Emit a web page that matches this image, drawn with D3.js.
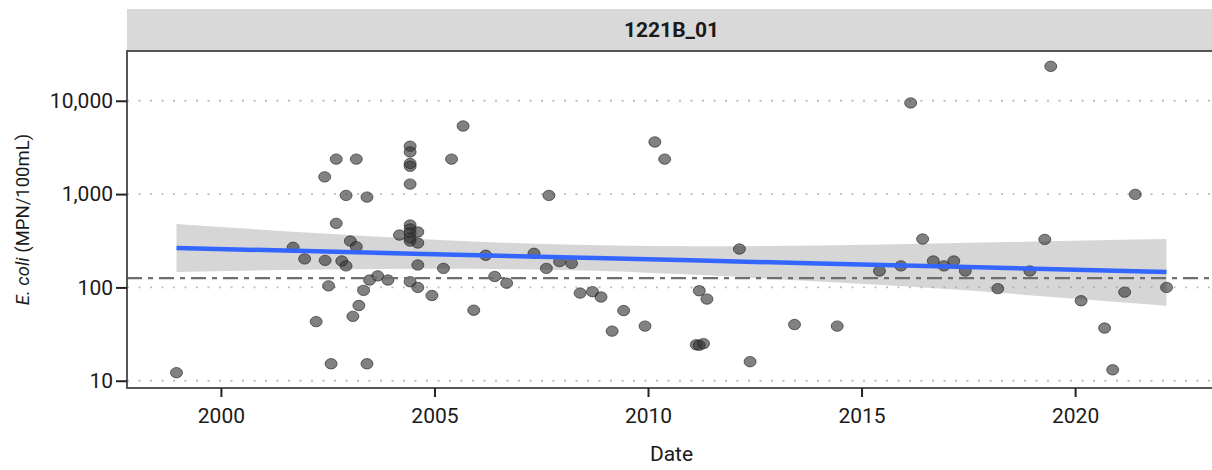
<!DOCTYPE html>
<html>
<head>
<meta charset="utf-8">
<script src="https://cdn.jsdelivr.net/npm/d3@7"></script>
<style>
  body { margin: 0; background: #fff; }
  svg { display: block; font-family: Roboto, "Noto Sans", sans-serif; }
</style>
</head>
<body>
<svg id="chart" width="1212" height="470"></svg>
<script>
// Sample dates (decimal years) and E. coli values (MPN/100mL)
const sampleDates = [
  1998.96, 2001.69, 2001.96, 2002.23, 2002.43, 2002.44, 2002.52, 2002.58, 2002.70, 2002.70,
  2002.83, 2002.93, 2002.93, 2003.03, 2003.09, 2003.17, 2003.17, 2003.23, 2003.34, 2003.42,
  2003.42, 2003.48, 2003.67, 2003.91, 2004.18, 2004.43, 2004.43, 2004.43, 2004.43, 2004.43,
  2004.43, 2004.43, 2004.43, 2004.43, 2004.43, 2004.43, 2004.61, 2004.61, 2004.61, 2004.61,
  2004.94, 2005.21, 2005.40, 2005.67, 2005.92, 2006.20, 2006.41, 2006.69, 2007.33, 2007.62,
  2007.68, 2007.93, 2008.21, 2008.41, 2008.70, 2008.90, 2009.16, 2009.43, 2009.93, 2010.16,
  2010.39, 2011.13, 2011.20, 2011.30, 2011.20, 2011.38, 2012.14, 2012.39, 2013.43, 2014.43,
  2015.42, 2015.92, 2016.15, 2016.43, 2016.68, 2016.93, 2017.16, 2017.43, 2018.19, 2018.94,
  2019.29, 2019.43, 2020.14, 2020.69, 2020.88, 2021.16, 2021.41, 2022.14
];
const ecoliValues = [
  12.2, 269, 202, 43, 1530, 195, 104, 15.2, 2370, 486,
  192, 968, 170, 314, 49, 2370, 273, 64, 93, 15.2,
  929, 120, 133, 120, 364, 3260, 2830, 2130, 1990, 1280,
  466, 423, 383, 338, 314, 115, 393, 299, 174, 100,
  82, 160, 2370, 5370, 57, 221, 131, 111, 232, 160,
  968, 189, 181, 87, 90, 79, 34, 56.5, 38.5, 3620,
  2370, 24.3, 24, 25, 92, 75, 258, 16, 40, 38.5,
  150, 170, 9480, 330, 192, 170, 192, 150, 97, 150,
  327, 23400, 72, 36.7, 13.1, 89, 993, 100
];

// Trend (log-linear fit) and its confidence band, read at a few dates
const trendDates = [1998.96, 2002, 2005, 2008, 2011, 2014, 2017, 2020, 2022.14];
const trendFit   = [264.6, 244.9, 227, 210.4, 195, 180.3, 167.1, 154.9, 146.6];
const trendLower = [146.4, 154.5, 158.5, 153.8, 137.4, 115.6, 96, 75.7, 63.8];
const trendUpper = [478, 388, 325, 287.7, 276.7, 281, 296.5, 316.9, 330];

const referenceLevel = 126;
const yTicks = [10, 100, 1000, 10000];
const xTicks = [2000, 2005, 2010, 2015, 2020];
const stripLabel = '1221B_01';

const points = sampleDates.map((d, i) => ({ date: d, value: ecoliValues[i] }));
const band = trendDates.map((d, i) => ({ date: d, fit: trendFit[i], lo: trendLower[i], hi: trendUpper[i] }));

const panel = { left: 127, right: 1216, top: 51, bottom: 388 };
const svg = d3.select('#chart');

// ggplot-like 5% expansion
const xExt = d3.extent(sampleDates);
const xPad = (xExt[1] - xExt[0]) * 0.05;
const x = d3.scaleLinear()
  .domain([xExt[0] - xPad, xExt[1] + xPad])
  .range([panel.left, panel.right]);

const yExt = d3.extent(ecoliValues).map(Math.log10);
const yPad = (yExt[1] - yExt[0]) * 0.05;
const y = d3.scaleLog()
  .domain([Math.pow(10, yExt[0] - yPad), Math.pow(10, yExt[1] + yPad)])
  .range([panel.bottom, panel.top]);

svg.append('rect').attr('width', 1212).attr('height', 470).attr('fill', '#fff');

// strip
svg.append('rect')
  .attr('x', panel.left).attr('y', 9)
  .attr('width', panel.right - panel.left).attr('height', panel.top - 9)
  .attr('fill', '#d9d9d9');
svg.append('text')
  .attr('x', (panel.left + panel.right) / 2)
  .attr('y', 37)
  .attr('text-anchor', 'middle')
  .attr('font-size', 21)
  .attr('font-weight', 700)
  .attr('fill', '#1a1a1a')
  .text(stripLabel);

// dotted grid lines
svg.append('g')
  .selectAll('line')
  .data(yTicks)
  .enter().append('line')
  .attr('x1', panel.left).attr('x2', panel.right)
  .attr('y1', d => y(d)).attr('y2', d => y(d))
  .attr('stroke', '#bdbdbd')
  .attr('stroke-width', 1.8)
  .attr('stroke-dasharray', '2,9.5');

// confidence band
const area = d3.area()
  .x(d => x(d.date))
  .y0(d => y(d.lo))
  .y1(d => y(d.hi))
  .curve(d3.curveMonotoneX);
svg.append('path')
  .datum(band)
  .attr('d', area)
  .attr('fill', '#999')
  .attr('fill-opacity', 0.4);

// points
svg.append('g')
  .selectAll('ellipse')
  .data(points)
  .enter().append('ellipse')
  .attr('cx', d => x(d.date))
  .attr('cy', d => y(d.value))
  .attr('rx', 6)
  .attr('ry', 5.2)
  .attr('fill', '#333')
  .attr('fill-opacity', 0.62)
  .attr('stroke', '#1a1a1a')
  .attr('stroke-opacity', 0.6)
  .attr('stroke-width', 1);

// trend line
const line = d3.line()
  .x(d => x(d.date))
  .y(d => y(d.fit));
svg.append('path')
  .datum(band)
  .attr('d', line)
  .attr('fill', 'none')
  .attr('stroke', '#3366ff')
  .attr('stroke-width', 4.5);

// reference level
svg.append('line')
  .attr('x1', panel.left).attr('x2', panel.right)
  .attr('y1', y(referenceLevel)).attr('y2', y(referenceLevel))
  .attr('stroke', '#6e6e6e')
  .attr('stroke-width', 2.2)
  .attr('stroke-dasharray', '15,6,5,6');

// panel border
svg.append('rect')
  .attr('x', panel.left).attr('y', panel.top)
  .attr('width', panel.right - panel.left)
  .attr('height', panel.bottom - panel.top)
  .attr('fill', 'none')
  .attr('stroke', '#444')
  .attr('stroke-width', 1.8);

// axes
const yAxis = svg.append('g')
  .attr('transform', `translate(${panel.left},0)`)
  .call(d3.axisLeft(y).tickValues(yTicks).tickFormat(d3.format(',')).tickSize(11).tickPadding(3));
const xAxis = svg.append('g')
  .attr('transform', `translate(0,${panel.bottom})`)
  .call(d3.axisBottom(x).tickValues(xTicks).tickFormat(d3.format('d')).tickSize(9).tickPadding(11));

[yAxis, xAxis].forEach(ax => {
  ax.select('.domain').remove();
  ax.selectAll('.tick line').attr('stroke', '#222').attr('stroke-width', 2);
  ax.selectAll('.tick text')
    .attr('font-family', 'Roboto, sans-serif')
    .attr('font-size', 21)
    .attr('fill', '#1a1a1a');
});

// axis titles
svg.append('text')
  .attr('x', (panel.left + panel.right) / 2)
  .attr('y', 461)
  .attr('text-anchor', 'middle')
  .attr('font-size', 21)
  .attr('fill', '#1a1a1a')
  .text('Date');

const yTitle = svg.append('text')
  .attr('transform', `translate(29,${(panel.top + panel.bottom) / 2}) rotate(-90)`)
  .attr('text-anchor', 'middle')
  .attr('font-size', 18.5)
  .attr('fill', '#1a1a1a');
yTitle.append('tspan').attr('font-style', 'italic').text('E. coli');
yTitle.append('tspan').text(' (MPN/100mL)');
</script>
</body>
</html>
